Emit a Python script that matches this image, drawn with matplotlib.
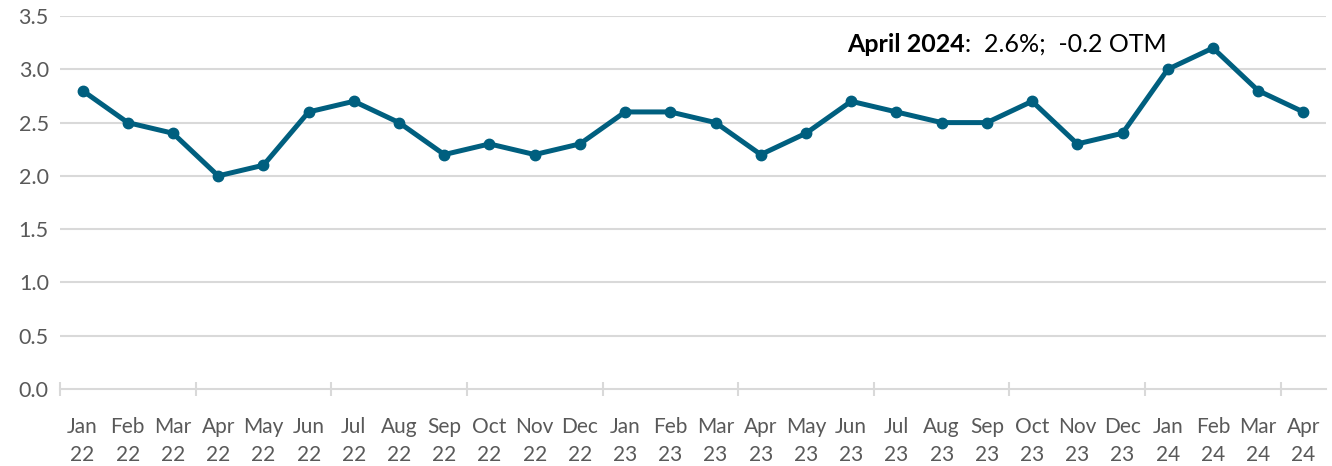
import matplotlib
matplotlib.use("Agg")
import matplotlib.pyplot as plt

months = ["Jan", "Feb", "Mar", "Apr", "May", "Jun", "Jul", "Aug", "Sep", "Oct", "Nov", "Dec",
          "Jan", "Feb", "Mar", "Apr", "May", "Jun", "Jul", "Aug", "Sep", "Oct", "Nov", "Dec",
          "Jan", "Feb", "Mar", "Apr"]
years = ["22"] * 12 + ["23"] * 12 + ["24"] * 4
values = [2.8, 2.5, 2.4, 2.0, 2.1, 2.6, 2.7, 2.5, 2.2, 2.3, 2.2, 2.3,
          2.6, 2.6, 2.5, 2.2, 2.4, 2.7, 2.6, 2.5, 2.5, 2.7, 2.3, 2.4,
          3.0, 3.2, 2.8, 2.6]
y_ticks = [0.0, 0.5, 1.0, 1.5, 2.0, 2.5, 3.0, 3.5]
bold_label = "April 2024"
rest_label = ":  2.6%;  -0.2 OTM"

plt.rcParams["font.family"] = ["Lato", "DejaVu Sans"]

line_color = "#005F7F"
grid_color = "#D9D9D9"
text_color = "#595959"

fig = plt.figure(figsize=(13.32, 4.66), dpi=100)
ax = fig.add_axes([0.045, 0.1652, 0.9505, 0.8004])

x = list(range(len(values)))
ax.plot(x, values, color=line_color, lw=3.6, marker="o", ms=7.5, solid_joinstyle="round", zorder=3)

ax.set_xlim(-0.5, len(values) - 0.5)
ax.set_ylim(0, 3.5)
ax.set_yticks(y_ticks)
ax.set_yticklabels([f"{v:.1f}" for v in y_ticks])
ax.set_xticks(x)
ax.set_xticklabels([f"{m}\n{y}" for m, y in zip(months, years)], linespacing=1.5)
ax.set_xticks([i - 0.5 for i in range(0, len(values) + 1, 3)], minor=True)

for v in y_ticks[1:]:
    ax.axhline(v, color=grid_color, lw=1.5, zorder=1)

for s in ["top", "right", "left"]:
    ax.spines[s].set_visible(False)
ax.spines["bottom"].set_color(grid_color)
ax.spines["bottom"].set_linewidth(1.5)

ax.tick_params(axis="y", length=0, labelsize=15.5, labelcolor=text_color, pad=8)
ax.tick_params(axis="x", which="major", length=0, labelsize=15, labelcolor=text_color, pad=20)
ax.tick_params(axis="x", which="minor", length=10, width=1.5, color=grid_color, direction="inout")

t1 = ax.text(0.636, 0.905, bold_label, transform=fig.transFigure, fontsize=18,
             fontweight="bold", color="black", va="center", ha="left")
ax.annotate(rest_label, xy=(1, 0), xycoords=t1, va="bottom", ha="left",
            fontsize=18, color="black")

fig.savefig("out.png", dpi=100)
